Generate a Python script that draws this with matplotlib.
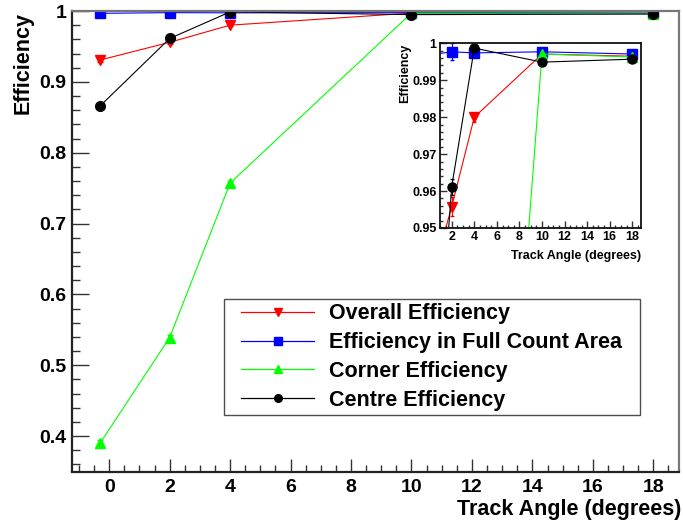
import matplotlib
matplotlib.use('Agg')
import matplotlib.pyplot as plt
from matplotlib.lines import Line2D
from matplotlib.legend_handler import HandlerLine2D
from matplotlib.ticker import MultipleLocator, FuncFormatter

plt.rcParams['font.family'] = ['Liberation Sans', 'DejaVu Sans']
plt.rcParams['font.weight'] = 'bold'

# track angle (degrees)
angles = [-0.3, 2, 4, 10, 18]

overall = [0.9308, 0.9558, 0.9800, 0.9971, 0.9965]
overall_err = [0.0030, 0.0025, 0.0012, 0.0004, 0.0004]

full_area = [0.9967, 0.9977, 0.9974, 0.9977, 0.9971]
full_area_err = [0.0020, 0.0023, 0.0008, 0.0004, 0.0004]

corner = [0.390, 0.539, 0.757, 0.9971, 0.9963]
corner_err = [0.004, 0.004, 0.003, 0.0004, 0.0004]

centre = [0.866, 0.9612, 0.9987, 0.9949, 0.9957]
centre_err = [0.004, 0.0022, 0.0006, 0.0004, 0.0004]

series = [
    ('Overall Efficiency', overall, overall_err, '#ff0000', 'v'),
    ('Efficiency in Full Count Area', full_area, full_area_err, '#0000ff', 's'),
    ('Corner Efficiency', corner, corner_err, '#00ff00', '^'),
    ('Centre Efficiency', centre, centre_err, '#000000', 'o'),
]

W, H = 683, 528
fig = plt.figure(figsize=(W / 100, H / 100), dpi=100)


def style_axes(ax, label_size):
    for side in ('left', 'bottom'):
        ax.spines[side].set_color('#222222')
    for side in ('top', 'right'):
        ax.spines[side].set_color('#777777')
    ax.tick_params(which='both', direction='in', top=False, right=False,
                   color='#333333', width=1.0, labelsize=label_size)
    ax.yaxis.set_major_formatter(FuncFormatter(lambda v, p: '%g' % round(v, 4)))
    ax.xaxis.set_major_formatter(FuncFormatter(lambda v, p: '%g' % round(v, 4)))


# main pad
ax = fig.add_axes([72 / W, (H - 471.5) / H, 607 / W, 460.5 / H])
handles = []
for name, vals, err, col, mk in series:
    ax.errorbar(angles, vals, yerr=err, color=col, marker=mk, markersize=7,
                lw=0.8, elinewidth=0.8, capsize=2)
    handles.append(Line2D([], [], color=col, marker=mk, markersize=5.5, lw=0.9, label=name))
ax.set_xlim(-1.23, 18.85)
ax.set_ylim(0.35, 1.0)
ax.xaxis.set_major_locator(MultipleLocator(2))
ax.xaxis.set_minor_locator(MultipleLocator(0.5))
ax.yaxis.set_major_locator(MultipleLocator(0.1))
ax.yaxis.set_minor_locator(MultipleLocator(0.02))
style_axes(ax, 14)
for side in ax.spines:
    ax.spines[side].set_linewidth(1.6)
ax.tick_params(axis='x', which='major', length=9.5, pad=5.5)
ax.tick_params(axis='x', which='minor', length=5)
ax.tick_params(axis='y', which='major', length=12, pad=4)
ax.tick_params(axis='y', which='minor', length=6)

fig.text(23 / W, 1 - 12 / H, 'Efficiency', rotation=90, ha='center', va='top',
         fontsize=15.5, fontweight='bold')
fig.text(681 / W, 1 - 510 / H, 'Track Angle (degrees)', ha='right', va='center',
         fontsize=15.5, fontweight='bold')

# legend box fixed to the reference area, handles padded like ROOT's TLegend
leg = ax.legend(handles=handles, loc='upper left', mode='expand',
                bbox_to_anchor=(224 / W, (H - 414) / H, 416 / W, 115 / H),
                bbox_transform=fig.transFigure,
                fontsize=15.5, frameon=True, fancybox=False, borderpad=0.2,
                labelspacing=0.36, handlelength=4.0, handletextpad=0.7,
                borderaxespad=0,
                handler_map={Line2D: HandlerLine2D(xpad=0.6)})
leg.get_frame().set_edgecolor('#222222')
leg.get_frame().set_linewidth(1.0)
for t in leg.get_texts():
    t.set_fontweight('bold')

# inset pad
ins = fig.add_axes([440 / W, (H - 228) / H, 201 / W, 184.7 / H])
for name, vals, err, col, mk in series:
    ins.errorbar(angles, vals, yerr=err, color=col, marker=mk, markersize=6.5,
                 lw=0.8, elinewidth=0.8, capsize=1.5)
ins.set_xlim(0.96, 18.77)
ins.set_ylim(0.95, 1.0)
ins.xaxis.set_major_locator(MultipleLocator(2))
ins.xaxis.set_minor_locator(MultipleLocator(0.5))
ins.yaxis.set_major_locator(MultipleLocator(0.01))
ins.yaxis.set_minor_locator(MultipleLocator(0.002))
style_axes(ins, 9)
for side in ins.spines:
    ins.spines[side].set_color('#111111')
    ins.spines[side].set_linewidth(1.3)
ins.tick_params(which='major', length=5)
ins.tick_params(which='minor', length=2.5)
ins.tick_params(axis='both', pad=2.5)
ins.set_ylabel('Efficiency', fontsize=9, fontweight='bold', loc='top', labelpad=0.5)
ins.set_xlabel('Track Angle (degrees)', fontsize=9, fontweight='bold', loc='right', labelpad=5)

fig.savefig('out.png', dpi=100)
